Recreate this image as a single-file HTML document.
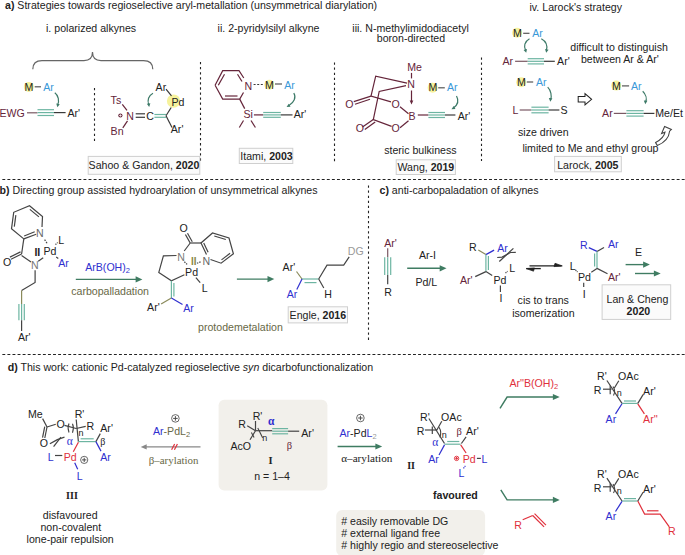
<!DOCTYPE html>
<html><head><meta charset="utf-8"><style>
html,body{margin:0;padding:0;background:#fff;}
svg{display:block;}
</style></head><body>
<svg width="685" height="555" viewBox="0 0 685 555">
<rect x="0" y="0" width="685" height="555" fill="#fff"/>
<g fill="#222" font-family="'Liberation Sans', sans-serif" font-size="10.6">
<line x1="2.35" y1="179.5" x2="685" y2="179.5" stroke="#222" stroke-width="1.1" stroke-dasharray="2.9 2.17"/>
<line x1="2.35" y1="354.5" x2="685" y2="354.5" stroke="#222" stroke-width="1.1" stroke-dasharray="2.9 2.17"/>
<line x1="94.5" y1="88" x2="94.5" y2="142" stroke="#222" stroke-width="1.1" stroke-dasharray="2.3 2.77"/>
<line x1="200.5" y1="62" x2="200.5" y2="162" stroke="#222" stroke-width="1.1" stroke-dasharray="2.3 2.77"/>
<line x1="334.5" y1="62.5" x2="334.5" y2="162" stroke="#222" stroke-width="1.1" stroke-dasharray="2.3 2.77"/>
<line x1="481.5" y1="57.5" x2="481.5" y2="161" stroke="#222" stroke-width="1.1" stroke-dasharray="2.3 2.77"/>
<line x1="368.5" y1="185.5" x2="368.5" y2="341" stroke="#222" stroke-width="1.1" stroke-dasharray="2.3 2.77"/>
<text x="5" y="8.7"><tspan font-weight="bold">a)</tspan> Strategies towards regioselective aryl-metallation (unsymmetrical diarylation)</text>
<text x="46" y="32">i. polarized alkynes</text>
<text x="217.6" y="31.7">ii. 2-pyridylsilyl alkyne</text>
<text x="352.3" y="31.7">iii. N-methylimidodiacetyl</text>
<text x="376.8" y="42.3">boron-directed</text>
<text x="529.5" y="10.8">iv. Larock's strategy</text>
<path d="M32.8,69.3 C32.8,63.5 35.5,60.6 42,60.6 L84,60.6 C90,60.6 92.5,57 92.5,52 C92.5,57 95,60.6 101,60.6 L143.5,60.6 C150,60.6 152.8,63.5 152.8,69.3" stroke="#666" stroke-width="1.2" fill="none" />
<circle cx="28.8" cy="86.9" r="5.0" fill="#f6f29c" stroke="none" stroke-width="1"/>
<text x="24.4" y="91.3">M</text>
<line x1="34.7" y1="86.8" x2="41" y2="86.8" stroke="#555" stroke-width="1.2"/>
<text x="43.3" y="91.3" fill="#3a98d8">Ar</text>
<path d="M54.8,92.8 C58.5,95.5 59.5,101 57.6,105" stroke="#3d7a68" stroke-width="1.2" fill="none" />
<path d="M57.40,107.30 L56.24,103.54 L59.78,104.17 Z" fill="#3d7a68"/>
<text x="-0.5" y="116.8" fill="#65253a">EWG</text>
<line x1="27" y1="112.8" x2="37.5" y2="112.8" stroke="#7a5863" stroke-width="1.2"/>
<line x1="37.5" y1="109.69999999999999" x2="54" y2="109.69999999999999" stroke="#6db5a2" stroke-width="1.2"/>
<line x1="37.5" y1="112.6" x2="54" y2="112.6" stroke="#6db5a2" stroke-width="1.2"/>
<line x1="37.5" y1="115.5" x2="54" y2="115.5" stroke="#6db5a2" stroke-width="1.2"/>
<line x1="54" y1="112.6" x2="65.6" y2="112.6" stroke="#3a3a3a" stroke-width="1.2"/>
<text x="67.5" y="116.8">Ar'</text>
<text x="110.6" y="103.7" fill="#65253a">Ts</text>
<line x1="122.3" y1="104.4" x2="127" y2="110.3" stroke="#65253a" stroke-width="1.2"/>
<circle cx="120.4" cy="115.5" r="2.1" fill="#65253a" stroke="none" stroke-width="1"/>
<line x1="119.1" y1="115.5" x2="121.7" y2="115.5" stroke="#fff" stroke-width="0.72"/>
<line x1="120.4" y1="114.2" x2="120.4" y2="116.8" stroke="#fff" stroke-width="0.72"/>
<text x="126.3" y="119.6" fill="#65253a">N</text>
<line x1="135.7" y1="113.8" x2="145" y2="113.8" stroke="#3a3a3a" stroke-width="1.2"/>
<line x1="135.7" y1="117.3" x2="145" y2="117.3" stroke="#3a3a3a" stroke-width="1.2"/>
<text x="146.2" y="119.6">C</text>
<line x1="154.4" y1="114.5" x2="166" y2="114.5" stroke="#6db5a2" stroke-width="1.2"/>
<line x1="154.4" y1="117.3" x2="166" y2="117.3" stroke="#6db5a2" stroke-width="1.2"/>
<circle cx="173.6" cy="101.1" r="6.7" fill="#f6f29c" stroke="none" stroke-width="1"/>
<line x1="166" y1="115.8" x2="171.2" y2="107.5" stroke="#3a3a3a" stroke-width="1.2"/>
<line x1="166" y1="115.8" x2="172" y2="127.5" stroke="#3a3a3a" stroke-width="1.2"/>
<text x="171.5" y="105.6">Pd</text>
<text x="155.6" y="91">Ar</text>
<line x1="166" y1="89.2" x2="171.5" y2="95.8" stroke="#3a3a3a" stroke-width="1.2"/>
<path d="M153,93.2 C148.5,95.5 147,100.5 148.8,104.8" stroke="#3d7a68" stroke-width="1.2" fill="none" />
<path d="M149.20,107.00 L146.82,103.87 L150.36,103.24 Z" fill="#3d7a68"/>
<text x="170.8" y="133.2">Ar'</text>
<text x="110.6" y="134.9" fill="#65253a">Bn</text>
<line x1="127.5" y1="120.8" x2="122.8" y2="127.8" stroke="#65253a" stroke-width="1.2"/>
<rect x="88.2" y="156.4" width="111.6" height="17.9" rx="0" fill="#fbfbfb" stroke="#cfcfcf" stroke-width="1"/>
<text x="88.6" y="169.2">Sahoo &amp; Gandon, <tspan font-weight="bold">2020</tspan></text>
<path d="M215.1,85.2 L222.7,70.7 L239,70.7 L243.8,78" stroke="#65253a" stroke-width="1.2" fill="none" />
<path d="M243.5,92.5 L239.7,99.1 L222.7,99.1 L215.1,85.2" stroke="#65253a" stroke-width="1.2" fill="none" />
<line x1="218.3" y1="85.2" x2="224.5" y2="74.2" stroke="#65253a" stroke-width="1.2"/>
<line x1="237.5" y1="74.3" x2="242" y2="81.5" stroke="#65253a" stroke-width="1.2"/>
<line x1="225" y1="96" x2="237.5" y2="96" stroke="#65253a" stroke-width="1.2"/>
<text x="244.5" y="89.6" fill="#65253a">N</text>
<line x1="253.6" y1="84.5" x2="264.4" y2="84.5" stroke="#3a3a3a" stroke-width="1.2" stroke-dasharray="2 1.6"/>
<circle cx="269.3" cy="84.8" r="5.0" fill="#f6f29c" stroke="none" stroke-width="1"/>
<text x="265" y="89.1">M</text>
<line x1="275" y1="84" x2="282" y2="84" stroke="#555" stroke-width="1.2"/>
<text x="284.3" y="89.1" fill="#3a98d8">Ar</text>
<path d="M293.8,93 C296.5,97.5 294,102.5 289,105.5" stroke="#3d7a68" stroke-width="1.2" fill="none" />
<path d="M286.60,107.00 L288.73,103.69 L290.53,106.81 Z" fill="#3d7a68"/>
<line x1="239.7" y1="99.1" x2="244.7" y2="108.6" stroke="#65253a" stroke-width="1.2"/>
<text x="243.5" y="118.2" fill="#65253a">Si</text>
<line x1="253.9" y1="114.9" x2="263.2" y2="114.9" stroke="#65253a" stroke-width="1.2"/>
<line x1="263.2" y1="112.5" x2="280.8" y2="112.5" stroke="#6db5a2" stroke-width="1.2"/>
<line x1="263.2" y1="114.9" x2="280.8" y2="114.9" stroke="#6db5a2" stroke-width="1.2"/>
<line x1="263.2" y1="117.30000000000001" x2="280.8" y2="117.30000000000001" stroke="#6db5a2" stroke-width="1.2"/>
<line x1="280.8" y1="114.9" x2="292.5" y2="114.9" stroke="#3a3a3a" stroke-width="1.2"/>
<text x="293.7" y="118.2">Ar'</text>
<line x1="243.5" y1="120.5" x2="239.3" y2="127.5" stroke="#65253a" stroke-width="1.2"/>
<line x1="251" y1="120.5" x2="255.4" y2="127.5" stroke="#65253a" stroke-width="1.2"/>
<rect x="239.3" y="148.3" width="53.5" height="15.2" rx="0" fill="#fbfbfb" stroke="#cfcfcf" stroke-width="1"/>
<text x="240.3" y="159.8">Itami, <tspan font-weight="bold">2003</tspan></text>
<text x="407.3" y="71" fill="#65253a">Me</text>
<line x1="411.5" y1="72.9" x2="411.5" y2="78.4" stroke="#65253a" stroke-width="1.2"/>
<text x="407.3" y="88" fill="#65253a">N</text>
<line x1="411.5" y1="90.5" x2="411.5" y2="101.5" stroke="#65253a" stroke-width="1.2"/>
<path d="M411.50,104.50 L409.70,100.50 L413.30,100.50 Z" fill="#65253a"/>
<text x="408.5" y="119.6" fill="#65253a">B</text>
<text x="391.4" y="107.8" fill="#65253a">O</text>
<text x="391.4" y="132" fill="#65253a">O</text>
<text x="345.2" y="107.8" fill="#65253a">O</text>
<text x="355.8" y="132" fill="#65253a">O</text>
<path d="M407,83.2 L375.7,76.2 L371,96.1 L391,101.8" stroke="#65253a" stroke-width="1.2" fill="none" />
<line x1="371" y1="96.1" x2="353.8" y2="101.6" stroke="#65253a" stroke-width="1.2"/>
<line x1="370" y1="99.2" x2="355" y2="104.2" stroke="#65253a" stroke-width="1.2"/>
<path d="M406,85.6 L379.2,91.4 L373.3,119.6 L391.6,126.4" stroke="#65253a" stroke-width="1.2" fill="none" />
<line x1="373.3" y1="119.6" x2="362.5" y2="127" stroke="#65253a" stroke-width="1.2"/>
<line x1="375.2" y1="122" x2="364.8" y2="129.5" stroke="#65253a" stroke-width="1.2"/>
<line x1="400" y1="106.7" x2="408.5" y2="113.7" stroke="#65253a" stroke-width="1.2"/>
<line x1="400" y1="127.8" x2="408.5" y2="120.7" stroke="#65253a" stroke-width="1.2"/>
<line x1="417.8" y1="115" x2="428.4" y2="115" stroke="#65253a" stroke-width="1.2"/>
<line x1="428.4" y1="112.5" x2="445" y2="112.5" stroke="#6db5a2" stroke-width="1.2"/>
<line x1="428.4" y1="115" x2="445" y2="115" stroke="#6db5a2" stroke-width="1.2"/>
<line x1="428.4" y1="117.5" x2="445" y2="117.5" stroke="#6db5a2" stroke-width="1.2"/>
<line x1="445" y1="115" x2="455.4" y2="115" stroke="#3a3a3a" stroke-width="1.2"/>
<text x="457.7" y="120">Ar'</text>
<circle cx="432.6" cy="87.7" r="5.0" fill="#f6f29c" stroke="none" stroke-width="1"/>
<text x="428.4" y="91.4">M</text>
<line x1="438.2" y1="87.8" x2="444.8" y2="87.8" stroke="#555" stroke-width="1.2"/>
<text x="447" y="91.4" fill="#3a98d8">Ar</text>
<path d="M456.5,96 C459,100.5 457.5,105 453.5,108" stroke="#3d7a68" stroke-width="1.2" fill="none" />
<path d="M451.50,109.30 L453.63,105.99 L455.43,109.11 Z" fill="#3d7a68"/>
<text x="384.2" y="153.6">steric bulkiness</text>
<rect x="396.2" y="159.8" width="59.2" height="14.7" rx="0" fill="#fbfbfb" stroke="#cfcfcf" stroke-width="1"/>
<text x="397.5" y="170.7">Wang, <tspan font-weight="bold">2019</tspan></text>
<circle cx="517.1" cy="32.8" r="5.0" fill="#f6f29c" stroke="none" stroke-width="1"/>
<text x="513" y="36.9">M</text>
<line x1="523.2" y1="33.3" x2="529.5" y2="33.3" stroke="#555" stroke-width="1.2"/>
<text x="532.3" y="36.9" fill="#3a98d8">Ar</text>
<path d="M529.5,38.7 C524.5,41.5 523.5,46.5 525.6,50.5" stroke="#3d7a68" stroke-width="1.2" fill="none" />
<path d="M526.20,52.80 L523.56,49.89 L527.03,48.95 Z" fill="#3d7a68"/>
<path d="M541.3,38.7 C546.5,41.5 547.5,46.5 546.4,50.5" stroke="#3d7a68" stroke-width="1.2" fill="none" />
<path d="M546.20,52.80 L545.04,49.04 L548.58,49.67 Z" fill="#3d7a68"/>
<text x="502.5" y="64.9" fill="#65253a">Ar</text>
<line x1="515.1" y1="61.3" x2="527.7" y2="61.3" stroke="#7a5863" stroke-width="1.2"/>
<line x1="527.7" y1="58.699999999999996" x2="544" y2="58.699999999999996" stroke="#6db5a2" stroke-width="1.2"/>
<line x1="527.7" y1="61.3" x2="544" y2="61.3" stroke="#6db5a2" stroke-width="1.2"/>
<line x1="527.7" y1="63.9" x2="544" y2="63.9" stroke="#6db5a2" stroke-width="1.2"/>
<line x1="544" y1="61.3" x2="554.8" y2="61.3" stroke="#3a3a3a" stroke-width="1.2"/>
<text x="557.1" y="64.9">Ar'</text>
<text x="667.9" y="50.7" text-anchor="end">difficult to distinguish</text>
<text x="658.9" y="63.3" text-anchor="end">between Ar &amp; Ar'</text>
<circle cx="521.2" cy="82.2" r="5.0" fill="#f6f29c" stroke="none" stroke-width="1"/>
<text x="517" y="86.1">M</text>
<line x1="526.8" y1="82" x2="533.2" y2="82" stroke="#555" stroke-width="1.2"/>
<text x="536" y="86.1" fill="#3a98d8">Ar</text>
<path d="M547.7,87.1 C551,90.5 552,96 550.6,99.5" stroke="#3d7a68" stroke-width="1.2" fill="none" />
<path d="M550.30,101.70 L548.81,98.06 L552.40,98.37 Z" fill="#3d7a68"/>
<text x="512.5" y="114.1" fill="#65253a">L</text>
<line x1="519.7" y1="110" x2="531.4" y2="110" stroke="#7a5863" stroke-width="1.2"/>
<line x1="531.4" y1="107.2" x2="548.6" y2="107.2" stroke="#6db5a2" stroke-width="1.2"/>
<line x1="531.4" y1="110" x2="548.6" y2="110" stroke="#6db5a2" stroke-width="1.2"/>
<line x1="531.4" y1="112.8" x2="548.6" y2="112.8" stroke="#6db5a2" stroke-width="1.2"/>
<line x1="548.6" y1="110" x2="559.4" y2="110" stroke="#3a3a3a" stroke-width="1.2"/>
<text x="560.6" y="114.1">S</text>
<path d="M578.2,96.6 L585,96.6 L585,93.6 L591.6,99.3 L585,104.9 L585,102 L578.2,102 Z" stroke="#222" stroke-width="1.02" fill="none" />
<text x="518" y="135.5">size driven</text>
<text x="522.4" y="152">limited to Me and ethyl group</text>
<circle cx="616.2" cy="85.6" r="5.0" fill="#f6f29c" stroke="none" stroke-width="1"/>
<text x="612" y="89.5">M</text>
<line x1="622" y1="85.9" x2="629.1" y2="85.9" stroke="#555" stroke-width="1.2"/>
<text x="631" y="89.5" fill="#3a98d8">Ar</text>
<path d="M642.7,91.3 C646,94.5 647,99 645.6,102" stroke="#3d7a68" stroke-width="1.2" fill="none" />
<path d="M645.30,104.20 L643.81,100.56 L647.40,100.87 Z" fill="#3d7a68"/>
<text x="602.1" y="117.4" fill="#65253a">Ar</text>
<line x1="613.8" y1="113.4" x2="626.4" y2="113.4" stroke="#7a5863" stroke-width="1.2"/>
<line x1="626.4" y1="110.7" x2="643.6" y2="110.7" stroke="#6db5a2" stroke-width="1.2"/>
<line x1="626.4" y1="113.4" x2="643.6" y2="113.4" stroke="#6db5a2" stroke-width="1.2"/>
<line x1="626.4" y1="116.10000000000001" x2="643.6" y2="116.10000000000001" stroke="#6db5a2" stroke-width="1.2"/>
<line x1="643.6" y1="113.4" x2="654.4" y2="113.4" stroke="#3a3a3a" stroke-width="1.2"/>
<text x="655.3" y="117.4">Me/Et</text>
<path d="M657.3,145.6 C664.5,142.5 669,137.5 669.6,131.2 L671.4,129.4 L664.6,126.5 L661.6,133.6 L665,132.2 C664.2,136.8 660.5,140 655.6,142.6 Z" stroke="#444" stroke-width="1.08" fill="#fff" />
<rect x="554.6" y="156.4" width="66.7" height="15.4" rx="0" fill="#fbfbfb" stroke="#cfcfcf" stroke-width="1"/>
<text x="557.2" y="168.5">Larock, <tspan font-weight="bold">2005</tspan></text>
<text x="-0.4" y="194.4"><tspan font-weight="bold">b)</tspan> Directing group assisted hydroarylation of unsymmetrical alkynes</text>
<path d="M23.8,238.9 L11.5,228.8 L13.7,212.3 L29.5,205.8 L42.5,216.6 L42,227" stroke="#444" stroke-width="1.2" fill="none" />
<line x1="36.2" y1="234.3" x2="23.8" y2="238.9" stroke="#444" stroke-width="1.2"/>
<line x1="29.85" y1="209.34" x2="38.95" y2="216.9" stroke="#444" stroke-width="1.2"/>
<line x1="14.31" y1="226.66" x2="15.85" y2="215.11" stroke="#444" stroke-width="1.2"/>
<line x1="34.73" y1="231.73" x2="24.17" y2="236.05" stroke="#444" stroke-width="1.2"/>
<text x="36" y="237.3" fill="#666">N</text>
<line x1="23.8" y1="238.9" x2="21.6" y2="254" stroke="#444" stroke-width="1.2"/>
<line x1="21.6" y1="254" x2="11" y2="259.3" stroke="#444" stroke-width="1.2"/>
<line x1="20.53" y1="251.85" x2="9.93" y2="257.15" stroke="#444" stroke-width="1.2"/>
<text x="2.9" y="266.3">O</text>
<line x1="21.6" y1="255.5" x2="31" y2="262" stroke="#444" stroke-width="1.2"/>
<text x="31" y="269.2" fill="#777">N</text>
<line x1="38.2" y1="261.3" x2="43.2" y2="257.7" stroke="#444" stroke-width="1.2"/>
<text x="43.4" y="254.7">Pd</text>
<text x="34.4" y="255.8" font-size="10.5" font-weight="bold">II</text>
<line x1="44.6" y1="239.6" x2="47.5" y2="244" stroke="#444" stroke-width="1.2" stroke-dasharray="1.6 1.2"/>
<line x1="55.5" y1="244.7" x2="57.6" y2="242.5" stroke="#444" stroke-width="1.2" stroke-dasharray="1.3 1"/>
<text x="58.3" y="244.0">L</text>
<line x1="56.2" y1="256.9" x2="58.3" y2="258.4" stroke="#444" stroke-width="1.2"/>
<text x="58.3" y="267.0" fill="#2f2fcf">Ar</text>
<path d="M35.1,270.2 L35.1,282.4 L21.6,290.5" stroke="#444" stroke-width="1.2" fill="none" />
<line x1="21.6" y1="290.5" x2="21.6" y2="304" stroke="#8a8a5a" stroke-width="1.2"/>
<line x1="18.900000000000002" y1="304" x2="18.900000000000002" y2="320.3" stroke="#6db5a2" stroke-width="1.2"/>
<line x1="21.6" y1="304" x2="21.6" y2="320.3" stroke="#6db5a2" stroke-width="1.2"/>
<line x1="24.3" y1="304" x2="24.3" y2="320.3" stroke="#6db5a2" stroke-width="1.2"/>
<line x1="21.6" y1="320.3" x2="21.6" y2="331" stroke="#444" stroke-width="1.2"/>
<text x="18" y="340.8">Ar'</text>
<line x1="75.8" y1="279.4" x2="136.96" y2="279.4" stroke="#3f7c62" stroke-width="1.38"/>
<path d="M142.40,279.40 L135.60,282.50 L135.60,276.30 Z" fill="#3f7c62"/>
<text x="85.2" y="270.8" fill="#2f2fcf">ArB(OH)<tspan font-size="7.5" dy="2.2">2</tspan></text>
<text x="71.2" y="294.9" fill="#686846">carbopalladation</text>
<text x="179.4" y="232.2">O</text>
<line x1="185.4" y1="234.5" x2="190.2" y2="243" stroke="#444" stroke-width="1.2"/>
<line x1="187.49" y1="233.32" x2="192.29" y2="241.82" stroke="#444" stroke-width="1.2"/>
<line x1="190.2" y1="243" x2="201" y2="243" stroke="#444" stroke-width="1.2"/>
<line x1="190.2" y1="243" x2="184.2" y2="251" stroke="#444" stroke-width="1.2"/>
<text x="177.2" y="261.0" fill="#777">N</text>
<path d="M176.5,255.5 L163.4,255.8 L158.8,272.4 L171.4,280.8 L184.4,274.7" stroke="#444" stroke-width="1.2" fill="none" />
<line x1="184.4" y1="261.8" x2="187.3" y2="264.6" stroke="#444" stroke-width="1.2" stroke-dasharray="1.4 1"/>
<text x="185.1" y="276.2">Pd</text>
<text x="190.9" y="265.1" fill="#8a8a4a" font-size="10" font-weight="bold">II</text>
<line x1="197" y1="263.2" x2="201.5" y2="261.5" stroke="#444" stroke-width="1.2" stroke-dasharray="1.4 1"/>
<text x="202.4" y="264.6" fill="#666">N</text>
<path d="M206.5,254.5 L201,243 L212.5,233 L229,238 L233.4,253.8 L221.1,263.2 L210.5,259.5" stroke="#444" stroke-width="1.2" fill="none" />
<line x1="203.72" y1="243.11" x2="208.12" y2="252.31" stroke="#444" stroke-width="1.2"/>
<line x1="214.28" y1="236.05" x2="225.83" y2="239.55" stroke="#444" stroke-width="1.2"/>
<line x1="230.1" y1="253.3" x2="221.49" y2="259.88" stroke="#444" stroke-width="1.2"/>
<line x1="195.9" y1="277.6" x2="200.2" y2="282.7" stroke="#444" stroke-width="1.2"/>
<text x="201.7" y="292.0">L</text>
<line x1="171.4" y1="280.8" x2="171.4" y2="298.1" stroke="#6db5a2" stroke-width="1.2"/>
<line x1="173.9" y1="283" x2="173.9" y2="296.5" stroke="#6db5a2" stroke-width="1.2"/>
<line x1="171.4" y1="298.1" x2="161.1" y2="304" stroke="#8a8a5a" stroke-width="1.2"/>
<line x1="171.4" y1="298.1" x2="182.5" y2="304.5" stroke="#2f2fcf" stroke-width="1.2"/>
<text x="147.1" y="310.5">Ar'</text>
<text x="183.3" y="311.7" fill="#2f2fcf">Ar</text>
<line x1="236.9" y1="279.1" x2="268.86" y2="279.1" stroke="#3f7c62" stroke-width="1.38"/>
<path d="M274.30,279.10 L267.50,282.20 L267.50,276.00 Z" fill="#3f7c62"/>
<text x="198" y="331.1" fill="#686846">protodemetalation</text>
<text x="282.6" y="271.4">Ar'</text>
<line x1="296.5" y1="271.5" x2="302" y2="279" stroke="#8a8a5a" stroke-width="1.2"/>
<line x1="302" y1="279" x2="318.7" y2="279" stroke="#6db5a2" stroke-width="1.2"/>
<line x1="304.5" y1="282.6" x2="316.5" y2="282.6" stroke="#6db5a2" stroke-width="1.2"/>
<line x1="302" y1="279" x2="296.8" y2="289.5" stroke="#2f2fcf" stroke-width="1.2"/>
<text x="286.8" y="297.8" fill="#2f2fcf">Ar</text>
<line x1="318.7" y1="279" x2="323.8" y2="288" stroke="#444" stroke-width="1.2"/>
<text x="324.2" y="297.8">H</text>
<path d="M318.7,279 L327,265.2 L343.7,265.2 L349.2,256.9" stroke="#444" stroke-width="1.2" fill="none" />
<text x="347.8" y="254.7" fill="#999">DG</text>
<rect x="288.2" y="306.8" width="59.3" height="16.1" rx="0" fill="#fbfbfb" stroke="#cfcfcf" stroke-width="1"/>
<text x="289.6" y="318.6">Engle, <tspan font-weight="bold">2016</tspan></text>
<text x="379.5" y="194.1"><tspan font-weight="bold">c)</tspan> anti-carbopaladation of alkynes</text>
<text x="384.2" y="246.7" fill="#65253a">Ar'</text>
<line x1="387.7" y1="248.2" x2="387.7" y2="257.3" stroke="#7a5863" stroke-width="1.2"/>
<line x1="384.7" y1="257.3" x2="384.7" y2="274.9" stroke="#6db5a2" stroke-width="1.2"/>
<line x1="387.7" y1="257.3" x2="387.7" y2="274.9" stroke="#6db5a2" stroke-width="1.2"/>
<line x1="390.7" y1="257.3" x2="390.7" y2="274.9" stroke="#6db5a2" stroke-width="1.2"/>
<line x1="387.7" y1="274.9" x2="387.7" y2="284.2" stroke="#444" stroke-width="1.2"/>
<text x="384.2" y="295.5">R</text>
<text x="418.9" y="259.2">Ar-I</text>
<line x1="407.2" y1="268.3" x2="441.06" y2="268.3" stroke="#3f7c62" stroke-width="1.38"/>
<path d="M446.50,268.30 L439.70,271.40 L439.70,265.20 Z" fill="#3f7c62"/>
<text x="415.4" y="285.7">Pd/L</text>
<text x="468.9" y="250.8">R</text>
<line x1="478.3" y1="249.9" x2="485.9" y2="254.6" stroke="#8a8a5a" stroke-width="1.2"/>
<line x1="485.9" y1="254.6" x2="494.1" y2="250.1" stroke="#2f2fcf" stroke-width="1.2"/>
<text x="497.3" y="251.5" fill="#2f2fcf">Ar</text>
<line x1="485.9" y1="254.6" x2="485.9" y2="271.6" stroke="#6db5a2" stroke-width="1.2"/>
<line x1="488.4" y1="256" x2="488.4" y2="270" stroke="#6db5a2" stroke-width="1.2"/>
<line x1="485.9" y1="271.6" x2="475.2" y2="276.6" stroke="#444" stroke-width="1.2"/>
<text x="460" y="283.7" fill="#65253a">Ar'</text>
<line x1="485.9" y1="271.6" x2="492.2" y2="275.4" stroke="#444" stroke-width="1.2"/>
<text x="493.5" y="283.7">Pd</text>
<line x1="505.5" y1="273" x2="507.5" y2="271.3" stroke="#444" stroke-width="1.2" stroke-dasharray="1.2 0.8"/>
<text x="509.3" y="272.3">L</text>
<line x1="500.4" y1="285.5" x2="500.4" y2="292" stroke="#444" stroke-width="1.2"/>
<text x="499.4" y="301.9">I</text>
<path d="M497.2,257.5 L502.1,257.1 L510.5,252.5 L515.8,252.3" stroke="#444" stroke-width="1.2" fill="none" />
<line x1="499.3" y1="261.5" x2="513.4" y2="248.4" stroke="#444" stroke-width="1.2"/>
<line x1="529.5" y1="265.9" x2="561.5" y2="265.9" stroke="#222" stroke-width="1.32"/>
<path d="M555,263.3 L562.3,265.9 L554,266.6 Z" stroke="#222" stroke-width="0.72" fill="#222" />
<line x1="526.3" y1="268.6" x2="540.8" y2="268.6" stroke="#222" stroke-width="1.32"/>
<path d="M533.5,271.2 L526.3,268.6 L534.5,267.9 Z" stroke="#222" stroke-width="0.72" fill="#222" />
<text x="517.6" y="304.4">cis to trans</text>
<text x="512.2" y="317.1">isomerization</text>
<text x="579.9" y="248.9" fill="#2f2fcf">R</text>
<line x1="588.8" y1="247.6" x2="597" y2="251.4" stroke="#2f2fcf" stroke-width="1.2"/>
<line x1="597" y1="251.4" x2="604" y2="247.5" stroke="#444" stroke-width="1.2"/>
<text x="608" y="248.2" fill="#2f2fcf">Ar</text>
<line x1="597" y1="251.4" x2="597" y2="268.4" stroke="#6db5a2" stroke-width="1.2"/>
<line x1="594.6" y1="253.5" x2="594.6" y2="266.5" stroke="#6db5a2" stroke-width="1.2"/>
<line x1="597" y1="268.4" x2="591.3" y2="272.2" stroke="#444" stroke-width="1.2"/>
<line x1="597" y1="268.4" x2="607.5" y2="273.8" stroke="#444" stroke-width="1.2"/>
<text x="608" y="280.9" fill="#65253a">Ar'</text>
<text x="578" y="281.1">Pd</text>
<text x="569.8" y="269.8">L</text>
<line x1="575.5" y1="270" x2="577.5" y2="272" stroke="#444" stroke-width="1.2" stroke-dasharray="1.2 0.8"/>
<line x1="583.7" y1="282.8" x2="583.7" y2="287" stroke="#444" stroke-width="1.2"/>
<text x="582.7" y="297.5">I</text>
<text x="635" y="256.3">E</text>
<line x1="625.6" y1="264.6" x2="644.4599999999999" y2="264.6" stroke="#3f7c62" stroke-width="1.38"/>
<path d="M649.90,264.60 L643.10,267.70 L643.10,261.50 Z" fill="#3f7c62"/>
<line x1="635" y1="273.5" x2="655.26" y2="273.5" stroke="#3f7c62" stroke-width="1.38"/>
<path d="M660.70,273.50 L653.90,276.60 L653.90,270.40 Z" fill="#3f7c62"/>
<rect x="602.1" y="284.8" width="68.6" height="34.6" rx="0" fill="#fbfbfb" stroke="#cfcfcf" stroke-width="1"/>
<text x="606.5" y="303.1">Lan &amp; Cheng</text>
<text x="626.6" y="315.2" font-weight="bold">2020</text>
<text x="7.7" y="371.0" textLength="365.5" lengthAdjust="spacingAndGlyphs"><tspan font-weight="bold">d)</tspan> This work: cationic Pd-catalyzed regioselective <tspan font-style="italic">syn</tspan> dicarbofunctionalization</text>
<text x="28" y="418.2">Me</text>
<line x1="42.6" y1="418.6" x2="47" y2="427" stroke="#444" stroke-width="1.2"/>
<line x1="47" y1="427" x2="55.8" y2="424.3" stroke="#444" stroke-width="1.2"/>
<text x="56.5" y="427.7">O</text>
<line x1="47" y1="427" x2="44.8" y2="438" stroke="#444" stroke-width="1.2"/>
<line x1="44.74" y1="426.55" x2="42.54" y2="437.55" stroke="#444" stroke-width="1.2"/>
<text x="39.7" y="446.7">O</text>
<line x1="64.5" y1="425.3" x2="76.2" y2="428.5" stroke="#444" stroke-width="1.2"/>
<path d="M69,423.5 Q67.2,428 69,432.5" stroke="#444" stroke-width="1.08" fill="none" />
<path d="M72.5,423.8 Q74.3,428 72.5,432.8" stroke="#444" stroke-width="1.08" fill="none" />
<text x="78.4" y="435.7" font-size="9">n</text>
<text x="74.7" y="417.5">R'</text>
<line x1="76.2" y1="419.5" x2="78.4" y2="441.6" stroke="#444" stroke-width="1.2"/>
<line x1="76.2" y1="428.5" x2="85.7" y2="426.3" stroke="#444" stroke-width="1.2"/>
<text x="86.4" y="429.9">R</text>
<line x1="78.4" y1="441.6" x2="95.9" y2="441.6" stroke="#6db5a2" stroke-width="1.2"/>
<line x1="80.6" y1="438.8" x2="93.7" y2="438.8" stroke="#6db5a2" stroke-width="1.2"/>
<line x1="95.9" y1="441.6" x2="100.3" y2="433.6" stroke="#444" stroke-width="1.2"/>
<text x="100.3" y="432.1">Ar'</text>
<text x="100.3" y="445.2" font-size="10" font-family="'Liberation Serif', serif">β</text>
<line x1="95.9" y1="441.6" x2="101" y2="451.1" stroke="#2f2fcf" stroke-width="1.2"/>
<text x="100.3" y="460.6" fill="#2f2fcf">Ar</text>
<text x="66.7" y="444.5" fill="#2f2fcf" font-size="11.5" font-family="'Liberation Serif', serif">α</text>
<line x1="78.4" y1="442.3" x2="73.3" y2="451.8" stroke="#e0303c" stroke-width="1.2"/>
<text x="63.8" y="460.6" fill="#e0303c">Pd</text>
<text x="47.7" y="460.6" fill="#2f2fcf">L</text>
<line x1="55" y1="455.5" x2="62.3" y2="455.5" stroke="#444" stroke-width="1.2"/>
<circle cx="84.2" cy="459.9" r="3.6" fill="none" stroke="#444" stroke-width="0.8"/>
<line x1="82.04" y1="459.9" x2="86.36" y2="459.9" stroke="#444" stroke-width="0.96"/>
<line x1="84.2" y1="457.73999999999995" x2="84.2" y2="462.06" stroke="#444" stroke-width="0.96"/>
<line x1="74.7" y1="462.8" x2="77.7" y2="469.3" stroke="#2f2fcf" stroke-width="1.2"/>
<text x="76.8" y="480.0" fill="#2f2fcf">L</text>
<path d="M49.9,443.8 Q57,439 64.5,437.2" stroke="#444" stroke-width="1.2" fill="none" />
<line x1="53.6" y1="446.7" x2="60.9" y2="437.2" stroke="#444" stroke-width="1.2"/>
<text x="66.1" y="499.0" font-size="10" font-weight="bold" font-family="'Liberation Serif', serif">III</text>
<text x="70.2" y="518.9" text-anchor="middle">disfavoured</text>
<text x="70.8" y="530.6" text-anchor="middle">non-covalent</text>
<text x="70.2" y="543.1" text-anchor="middle">lone-pair repulsion</text>
<circle cx="175.4" cy="418.4" r="3.8" fill="none" stroke="#444" stroke-width="0.8"/>
<line x1="173.12" y1="418.4" x2="177.68" y2="418.4" stroke="#444" stroke-width="0.96"/>
<line x1="175.4" y1="416.12" x2="175.4" y2="420.67999999999995" stroke="#444" stroke-width="0.96"/>
<text x="153" y="435.0" fill="#686846"><tspan fill="#2f2fcf">Ar</tspan>-PdL<tspan font-size="7.5" dy="2.2">2</tspan></text>
<line x1="146" y1="446.9" x2="200.5" y2="446.9" stroke="#888" stroke-width="1.44"/>
<path d="M140.70,446.90 L146.70,444.30 L146.70,449.50 Z" fill="#888"/>
<line x1="171.6" y1="449.8" x2="174.6" y2="444" stroke="#e0303c" stroke-width="1.2"/>
<line x1="174.4" y1="449.8" x2="177.4" y2="444" stroke="#e0303c" stroke-width="1.2"/>
<text x="148.8" y="463.5" fill="#686846" font-size="10.9" font-family="'Liberation Serif', serif">β–arylation</text>
<rect x="218.6" y="399.8" width="108.8" height="90.6" rx="5.5" fill="#f2f0eb" stroke="none" stroke-width="1"/>
<text x="252.7" y="419.6">R'</text>
<text x="238.2" y="427.9">R</text>
<text x="268" y="424.6" fill="#2f2fcf" font-size="11.5" font-weight="bold" font-family="'Liberation Serif', serif">α</text>
<line x1="255.5" y1="421" x2="255.5" y2="430.7" stroke="#444" stroke-width="1.2"/>
<line x1="247.2" y1="425.8" x2="255.5" y2="430.7" stroke="#444" stroke-width="1.2"/>
<line x1="255.5" y1="430.7" x2="250" y2="439.7" stroke="#444" stroke-width="1.2"/>
<line x1="255.5" y1="430.7" x2="272.2" y2="430.7" stroke="#444" stroke-width="1.2"/>
<line x1="251.4" y1="432.5" x2="254.1" y2="437.6" stroke="#444" stroke-width="1.08"/>
<line x1="257.8" y1="428" x2="262.6" y2="437.8" stroke="#444" stroke-width="1.08"/>
<text x="262.2" y="441.2" font-size="9">n</text>
<line x1="272.2" y1="428.59999999999997" x2="288.1" y2="428.59999999999997" stroke="#6db5a2" stroke-width="1.2"/>
<line x1="272.2" y1="431.2" x2="288.1" y2="431.2" stroke="#6db5a2" stroke-width="1.2"/>
<line x1="272.2" y1="433.8" x2="288.1" y2="433.8" stroke="#6db5a2" stroke-width="1.2"/>
<line x1="288.1" y1="431.2" x2="299.2" y2="431.2" stroke="#444" stroke-width="1.2"/>
<text x="301.3" y="436.9">Ar'</text>
<text x="286.7" y="449.1" fill="#65253a" font-size="10.5" font-family="'Liberation Serif', serif">β</text>
<text x="230.5" y="450.1">AcO</text>
<text x="268.5" y="464.4" font-size="10.5" font-weight="bold" font-family="'Liberation Serif', serif">I</text>
<text x="254.2" y="479.8">n = 1–4</text>
<circle cx="360.4" cy="418" r="3.8" fill="none" stroke="#444" stroke-width="0.8"/>
<line x1="358.12" y1="418" x2="362.67999999999995" y2="418" stroke="#444" stroke-width="0.96"/>
<line x1="360.4" y1="415.72" x2="360.4" y2="420.28" stroke="#444" stroke-width="0.96"/>
<text x="339.5" y="436.8"><tspan fill="#2f2fcf">Ar</tspan>-Pd<tspan fill="#2f2fcf">L</tspan><tspan fill="#999" font-size="7.5" dy="2.2">2</tspan></text>
<line x1="337.6" y1="446.5" x2="376.76" y2="446.5" stroke="#3f7c62" stroke-width="1.38"/>
<path d="M382.20,446.50 L375.40,449.60 L375.40,443.40 Z" fill="#3f7c62"/>
<text x="341.2" y="462.4" font-size="11.2" font-family="'Liberation Serif', serif">α–arylation</text>
<text x="407.2" y="469.2" font-size="10" font-weight="bold" font-family="'Liberation Serif', serif">II</text>
<text x="420.1" y="420.6">R'</text>
<text x="441.1" y="420.6">OAc</text>
<text x="416.8" y="435.2">R</text>
<line x1="424.9" y1="430" x2="437" y2="430" stroke="#444" stroke-width="1.2"/>
<line x1="432.3" y1="426.6" x2="432.3" y2="434" stroke="#444" stroke-width="1.2"/>
<line x1="428.9" y1="418.5" x2="444.5" y2="443.5" stroke="#444" stroke-width="1.2"/>
<line x1="441.8" y1="421.2" x2="436.4" y2="430.7" stroke="#444" stroke-width="1.2"/>
<path d="M439,427.3 Q442,432 439.8,437.4" stroke="#444" stroke-width="1.08" fill="none" />
<text x="441.8" y="438.1" font-size="9">n</text>
<line x1="444.5" y1="444.2" x2="460.7" y2="444.2" stroke="#6db5a2" stroke-width="1.2"/>
<line x1="447.2" y1="441.5" x2="459.3" y2="441.5" stroke="#6db5a2" stroke-width="1.2"/>
<text x="456.6" y="434.7" fill="#65253a" font-size="10.5" font-family="'Liberation Serif', serif">β</text>
<line x1="461.4" y1="443.5" x2="466.1" y2="436.8" stroke="#444" stroke-width="1.2"/>
<text x="466.1" y="434.7">Ar'</text>
<text x="432.3" y="446.2" fill="#2f2fcf" font-size="11.5" font-family="'Liberation Serif', serif">α</text>
<line x1="444.5" y1="444.9" x2="439" y2="455" stroke="#2f2fcf" stroke-width="1.2"/>
<text x="428.2" y="462.5" fill="#2f2fcf">Ar</text>
<line x1="460.7" y1="444.9" x2="466.1" y2="453" stroke="#e0303c" stroke-width="1.2"/>
<text x="462.7" y="462.5" fill="#e0303c">Pd</text>
<circle cx="456.6" cy="458.4" r="2.2" fill="none" stroke="#e0303c" stroke-width="0.9"/>
<line x1="455.28000000000003" y1="458.4" x2="457.92" y2="458.4" stroke="#e0303c" stroke-width="1.08"/>
<line x1="456.6" y1="457.08" x2="456.6" y2="459.71999999999997" stroke="#e0303c" stroke-width="1.08"/>
<line x1="476.9" y1="458.4" x2="480.9" y2="458.4" stroke="#444" stroke-width="1.2"/>
<text x="481.6" y="462.5" fill="#2f2fcf">L</text>
<line x1="465.4" y1="465.8" x2="463.4" y2="468.5" stroke="#2f2fcf" stroke-width="1.2" stroke-dasharray="1.2 0.8"/>
<text x="458.6" y="477.3" fill="#2f2fcf">L</text>
<text x="433" y="499.4" font-weight="bold">favoured</text>
<rect x="336.2" y="509.9" width="148.9" height="46" rx="6" fill="#f2f0eb" stroke="none" stroke-width="1"/>
<text x="341.2" y="524.7"># easily removable DG</text>
<text x="341.2" y="537.1"># external ligand free</text>
<text x="341.2" y="549.0"># highly regio and stereoselective</text>
<text x="509.4" y="387.2" fill="#e0303c">Ar''B(OH)<tspan font-size="7.5" dy="2.2">2</tspan></text>
<path d="M500,408.4 L507.1,397 L554,397" stroke="#3f7c62" stroke-width="1.44" fill="none" />
<path d="M559.70,397.00 L552.90,400.10 L552.90,393.90 Z" fill="#3f7c62"/>
<text x="597.1" y="380.4">R'</text>
<text x="618.1" y="380.4">OAc</text>
<text x="593.8" y="394.2">R</text>
<line x1="603" y1="389.2" x2="611.5" y2="389.2" stroke="#444" stroke-width="1.2"/>
<line x1="610.2" y1="385.6" x2="610.2" y2="394.2" stroke="#444" stroke-width="1.2"/>
<line x1="606.9" y1="380.5" x2="622" y2="403.4" stroke="#444" stroke-width="1.2"/>
<line x1="618.8" y1="380.8" x2="614.2" y2="388.2" stroke="#444" stroke-width="1.2"/>
<path d="M613,386.5 Q616,391 613.5,395.5" stroke="#444" stroke-width="1.08" fill="none" />
<text x="616.8" y="396.2" font-size="9">n</text>
<line x1="622" y1="403.4" x2="637.8" y2="403.4" stroke="#6db5a2" stroke-width="1.2"/>
<line x1="624" y1="401" x2="636" y2="401" stroke="#6db5a2" stroke-width="1.2"/>
<line x1="637.8" y1="403.4" x2="643.1" y2="394.6" stroke="#444" stroke-width="1.2"/>
<text x="643.1" y="395.1">Ar'</text>
<line x1="622" y1="403.8" x2="615.5" y2="413.9" stroke="#2f2fcf" stroke-width="1.2"/>
<text x="605.6" y="422.5" fill="#2f2fcf">Ar</text>
<line x1="637.8" y1="403.8" x2="644.4" y2="413.9" stroke="#e0303c" stroke-width="1.2"/>
<text x="643.1" y="422.5" fill="#e0303c">Ar''</text>
<path d="M500.8,489.9 L507.1,499.9 L554,499.9" stroke="#3f7c62" stroke-width="1.44" fill="none" />
<path d="M559.70,499.90 L552.90,503.00 L552.90,496.80 Z" fill="#3f7c62"/>
<text x="514.2" y="529.0" fill="#e0303c">R</text>
<line x1="522.7" y1="519.8" x2="532.7" y2="515.5" stroke="#e0303c" stroke-width="1.2"/>
<line x1="532.7" y1="515.5" x2="544.1" y2="526.9" stroke="#e0303c" stroke-width="1.2"/>
<line x1="534.54" y1="513.66" x2="545.94" y2="525.06" stroke="#e0303c" stroke-width="1.2"/>
<text x="597.1" y="478.0">R'</text>
<text x="618.1" y="478.0">OAc</text>
<text x="593.8" y="491.8">R</text>
<line x1="603" y1="486.79999999999995" x2="611.5" y2="486.79999999999995" stroke="#444" stroke-width="1.2"/>
<line x1="610.2" y1="483.20000000000005" x2="610.2" y2="491.79999999999995" stroke="#444" stroke-width="1.2"/>
<line x1="606.9" y1="478.1" x2="622" y2="501.0" stroke="#444" stroke-width="1.2"/>
<line x1="618.8" y1="478.4" x2="614.2" y2="485.79999999999995" stroke="#444" stroke-width="1.2"/>
<path d="M613,484.1 Q616,488.6 613.5,493.1" stroke="#444" stroke-width="1.08" fill="none" />
<text x="616.8" y="493.8" font-size="9">n</text>
<line x1="622" y1="501.0" x2="637.8" y2="501.0" stroke="#6db5a2" stroke-width="1.2"/>
<line x1="624" y1="498.6" x2="636" y2="498.6" stroke="#6db5a2" stroke-width="1.2"/>
<line x1="637.8" y1="501.0" x2="643.1" y2="492.20000000000005" stroke="#444" stroke-width="1.2"/>
<text x="643.1" y="492.7">Ar'</text>
<line x1="622" y1="501.4" x2="615.5" y2="511.5" stroke="#2f2fcf" stroke-width="1.2"/>
<text x="605.6" y="520.1" fill="#2f2fcf">Ar</text>
<path d="M637.8,501 L644.6,514.1 L660.2,514.1 L669.3,526.9" stroke="#e0303c" stroke-width="1.2" fill="none" />
<line x1="647" y1="510.8" x2="658.5" y2="510.8" stroke="#e0303c" stroke-width="1.2"/>
<text x="667.9" y="534.7" fill="#e0303c">R</text>
</g></svg></body></html>
